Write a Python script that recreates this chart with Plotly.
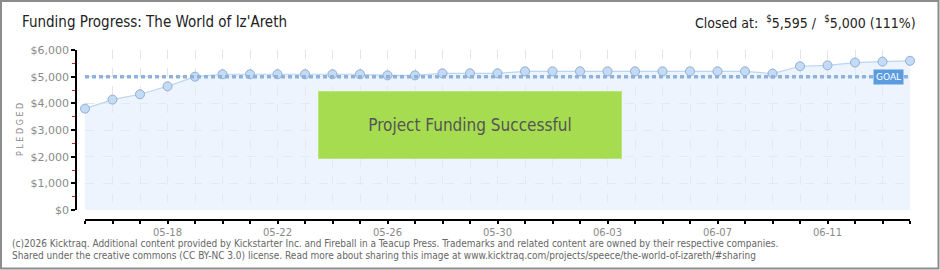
import plotly.graph_objects as go
import pandas as pd

# ---- data ----
dates = pd.date_range("2026-05-15", "2026-06-14", freq="D").strftime("%Y-%m-%d").tolist()
pledged = [3800, 4140, 4340, 4640, 5000, 5090, 5090, 5090, 5090, 5090, 5090,
           5050, 5050, 5125, 5125, 5125, 5200, 5200, 5200, 5200, 5200, 5200,
           5200, 5200, 5200, 5115, 5390, 5425, 5530, 5565, 5595]
goal = 5000
y_ticks = [0, 1000, 2000, 3000, 4000, 5000, 6000]
y_labels = ["$0", "$1,000", "$2,000", "$3,000", "$4,000", "$5,000", "$6,000"]
x_label_dates = ["2026-05-18", "2026-05-22", "2026-05-26", "2026-05-30",
                 "2026-06-03", "2026-06-07", "2026-06-11"]
x_labels = ["05-18", "05-22", "05-26", "05-30", "06-03", "06-07", "06-11"]

title = "Funding Progress: The World of Iz'Areth"
closed_text = "Closed at:  <sup>$</sup>5,595 /  <sup>$</sup>5,000 (111%)"
footer1 = "(c)2026 Kicktraq. Additional content provided by Kickstarter Inc. and Fireball in a Teacup Press. Trademarks and related content are owned by their respective companies."
footer2 = "Shared under the creative commons (CC BY-NC 3.0) license. Read more about sharing this image at www.kicktraq.com/projects/speece/the-world-of-izareth/#sharing"

# ---- layout geometry ----
W, H = 940, 270
ML, MR, MT, MB = 76, 30, 50, 50
PW, PH = W - ML - MR, H - MT - MB

def px(x):
    return (x - ML) / PW

def py(y):
    return (H - MB - y) / PH

FONT = "DejaVu Sans Condensed, Liberation Sans Narrow, Liberation Sans, sans-serif"
TICKFONT = dict(family="DejaVu Sans, sans-serif", size=10, color="#8a8a8a")

fig = go.Figure()

fig.add_trace(go.Scatter(
    x=dates, y=pledged, mode="lines+markers",
    line=dict(color="#b9d5f3", width=1.2),
    fill="tozeroy", fillcolor="rgba(225,237,252,0.6)",
    marker=dict(size=9, color="#c3dbf6", line=dict(color="#93aece", width=1)),
    cliponaxis=False, hoverinfo="x+y", showlegend=False,
))

fig.add_trace(go.Scatter(
    x=[dates[0], dates[-1]], y=[goal, goal], mode="lines",
    line=dict(color="#8fb2dc", width=3.5, dash="4px,3px"),
    showlegend=False, hoverinfo="skip",
))

fig.update_layout(
    width=W, height=H,
    margin=dict(l=ML, r=MR, t=MT, b=MB),
    paper_bgcolor="white", plot_bgcolor="white",
    xaxis=dict(
        type="date", domain=[px(85), 1], anchor="free", position=0,
        range=[dates[0], dates[-1]],
        tickvals=x_label_dates, ticktext=x_labels,
        ticks="outside", ticklen=3, tickcolor="black", tickwidth=1.5,
        showline=True, linecolor="black", linewidth=1.5,
        showgrid=True, gridcolor="#e2e4e8", griddash="dash", gridwidth=1,
        minor=dict(tick0=dates[0], dtick=86400000, ticks="outside", ticklen=3,
                   tickcolor="black", tickwidth=1.5,
                   showgrid=True, gridcolor="#e2e4e8", griddash="dash", gridwidth=1),
        tickfont=TICKFONT, zeroline=False,
    ),
    yaxis=dict(
        domain=[py(210), 1], anchor="free", position=0,
        range=[0, 6000],
        tickvals=y_ticks, ticktext=y_labels,
        ticks="outside", ticklen=4, tickcolor="black", tickwidth=1.5,
        showline=True, linecolor="black", linewidth=1.5,
        showgrid=True, gridcolor="#e2e4e8", griddash="dash", gridwidth=1,
        minor=dict(dtick=500, ticks="outside", ticklen=3, tickcolor="#e02020", tickwidth=1.2, showgrid=False),
        tickfont=dict(family="DejaVu Sans, sans-serif", size=11, color="#8a8a8a"),
        zeroline=False,
    ),
)

ann = []
ann.append(dict(x=px(20), y=py(22), xref="paper", yref="paper", xanchor="left", yanchor="middle",
                text=title, showarrow=False, font=dict(family=FONT, size=15, color="#222")))
ann.append(dict(x=px(918), y=py(22), xref="paper", yref="paper", xanchor="right", yanchor="middle",
                text=closed_text, showarrow=False, font=dict(family=FONT, size=14, color="#222")))
ann.append(dict(x=px(20), y=py(130), xref="paper", yref="paper", xanchor="center", yanchor="middle",
                text="P L E D G E D", textangle=-90, showarrow=False,
                font=dict(family="DejaVu Sans, sans-serif", size=8, color="#8a8a8a")))
ann.append(dict(x=dates[-1], y=goal, xref="x", yref="y", xanchor="right", yanchor="middle",
                xshift=-6,
                text="GOAL", showarrow=False, bgcolor="#5b9be0", borderpad=2,
                font=dict(family="DejaVu Sans, sans-serif", size=9, color="white")))
ann.append(dict(x=px(470), y=py(125), xref="paper", yref="paper", xanchor="center", yanchor="middle",
                text="Project Funding Successful", showarrow=False,
                width=300, height=64, bgcolor="#a6dc50", bordercolor="#b8e47a", borderwidth=1,
                font=dict(family=FONT, size=17, color="#555")))
ann.append(dict(x=px(10), y=py(243), xref="paper", yref="paper", xanchor="left", yanchor="middle",
                text=footer1, showarrow=False, font=dict(family=FONT, size=10, color="#666")))
ann.append(dict(x=px(10), y=py(256), xref="paper", yref="paper", xanchor="left", yanchor="middle",
                text=footer2, showarrow=False, font=dict(family=FONT, size=10, color="#666")))
fig.update_layout(annotations=ann)

fig.add_shape(type="rect", xref="paper", yref="paper",
              x0=px(1), x1=px(938.5), y0=py(268.5), y1=py(1),
              line=dict(color="#8c8c8c", width=2), layer="above")

fig.write_html("out.html")
